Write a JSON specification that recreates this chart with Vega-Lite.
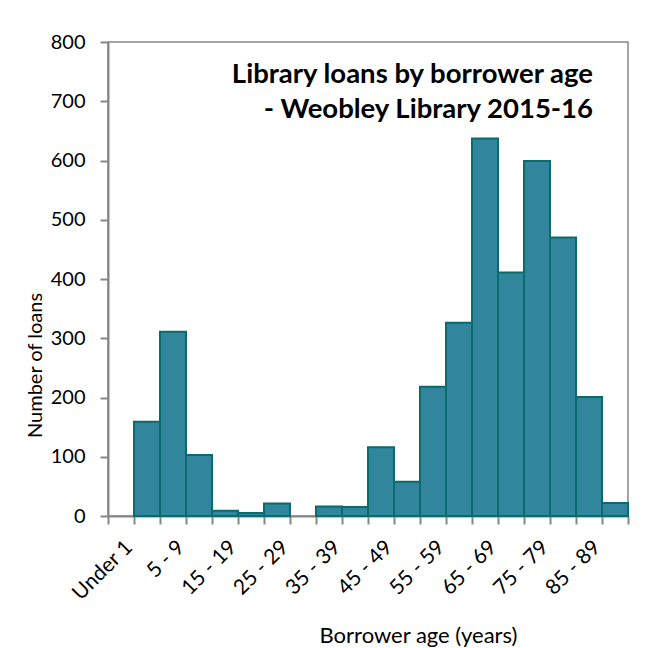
{
  "$schema": "https://vega.github.io/schema/vega-lite/v6.json",
  "width": 520,
  "height": 474,
  "autosize": "none",
  "padding": {"left": 108, "top": 42, "right": 34, "bottom": 132},
  "background": "white",
  "title": {
    "text": ["Library loans by borrower age", "- Weobley Library 2015-16"],
    "anchor": "end",
    "frame": "group",
    "align": "right",
    "font": "Lato",
    "fontSize": 27.5,
    "fontWeight": "bold",
    "color": "black",
    "lineHeight": 35,
    "dx": -35,
    "dy": 95
  },
  "data": {
    "values": [
      {"age": "Under 1", "loans": 0},
      {"age": "1 - 4", "loans": 159},
      {"age": "5 - 9", "loans": 311},
      {"age": "10 - 14", "loans": 103},
      {"age": "15 - 19", "loans": 9},
      {"age": "20 - 24", "loans": 5},
      {"age": "25 - 29", "loans": 21},
      {"age": "30 - 34", "loans": 0},
      {"age": "35 - 39", "loans": 16},
      {"age": "40 - 44", "loans": 15},
      {"age": "45 - 49", "loans": 116},
      {"age": "50 - 54", "loans": 58},
      {"age": "55 - 59", "loans": 218},
      {"age": "60 - 64", "loans": 326},
      {"age": "65 - 69", "loans": 637},
      {"age": "70 - 74", "loans": 411},
      {"age": "75 - 79", "loans": 599},
      {"age": "80 - 84", "loans": 470},
      {"age": "85 - 89", "loans": 201},
      {"age": "90+", "loans": 22}
    ]
  },
  "mark": {"type": "bar", "fill": "#31859c", "stroke": "#0b6a6a", "strokeWidth": 2},
  "encoding": {
    "x": {
      "field": "age",
      "type": "nominal",
      "sort": null,
      "scale": {"paddingInner": 0, "paddingOuter": 0},
      "axis": {
        "title": "Borrower age (years)",
        "tickBand": "extent",
        "labelAngle": -45,
        "labelFontSize": 21,
        "labelExpr": "indexof(['Under 1','5 - 9','15 - 19','25 - 29','35 - 39','45 - 49','55 - 59','65 - 69','75 - 79','85 - 89'], datum.value) >= 0 ? datum.label : ''",
        "labelPadding": 12,
        "titleFontSize": 22,
        "titleX": 310,
        "titleY": 119,
        "titleBaseline": "middle",
        "titleAlign": "center"
      }
    },
    "y": {
      "field": "loans",
      "type": "quantitative",
      "scale": {"domain": [0, 800]},
      "axis": {
        "title": "Number of loans",
        "values": [0, 100, 200, 300, 400, 500, 600, 700, 800],
        "grid": false,
        "labelPadding": 15,
        "titleX": -73,
        "titleY": 323,
        "titleAngle": -90,
        "titleBaseline": "middle",
        "titleAlign": "center"
      }
    },
    "strokeOpacity": {
      "condition": {"test": "datum.loans == 0", "value": 0},
      "value": 1
    }
  },
  "config": {
    "font": "Lato",
    "view": {"stroke": "#868686", "strokeWidth": 1.5},
    "axis": {
      "domainColor": "#868686",
      "domainWidth": 2,
      "tickColor": "#868686",
      "tickWidth": 2,
      "tickSize": 8,
      "labelFont": "Lato",
      "labelFontSize": 20,
      "labelColor": "black",
      "titleFont": "Lato",
      "titleFontSize": 20,
      "titleFontWeight": "normal",
      "titleColor": "black"
    }
  }
}
